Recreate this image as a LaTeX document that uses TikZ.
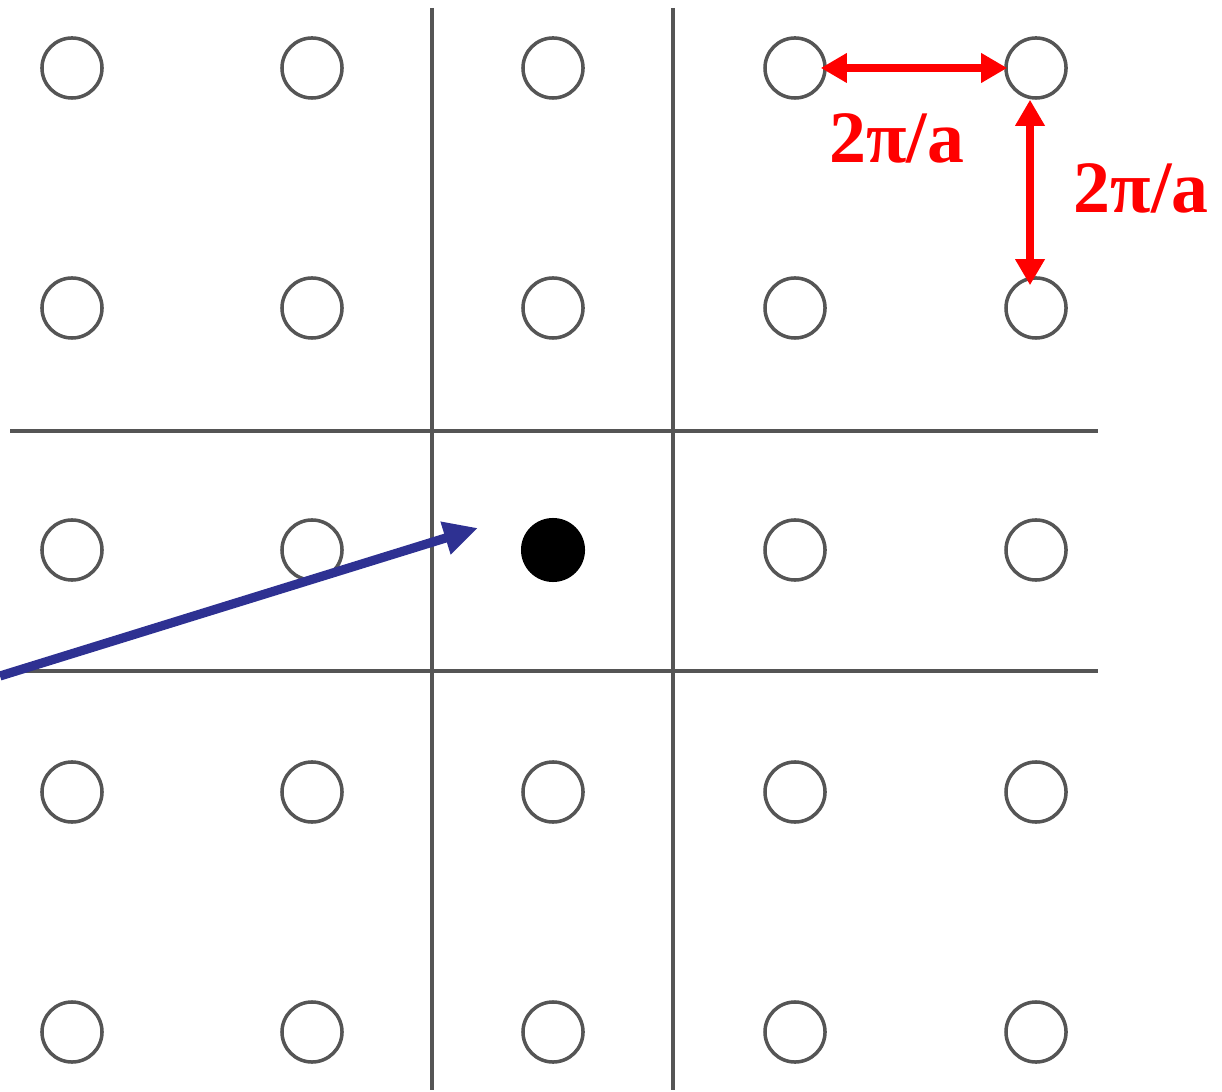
\documentclass[tikz,border=0pt]{standalone}
\usepackage{fontspec}
\setmainfont{Liberation Serif}
\usetikzlibrary{arrows.meta}
\definecolor{ringgray}{HTML}{555555}
\definecolor{arrowblue}{HTML}{2E3192}
\definecolor{labelred}{HTML}{FF0000}
\tikzset{
  ring/.style={circle,draw=ringgray,line width=1pt,minimum size=0.6cm,inner sep=0pt},
  dot/.style={circle,fill=black,minimum size=0.64cm,inner sep=0pt},
  zoneline/.style={draw=ringgray,line width=1pt},
  period/.style={draw=labelred,line width=2.4pt,
    {Triangle[length=2.6mm,width=2.8mm]}-{Triangle[length=2.6mm,width=2.8mm]}},
  periodlabel/.style={text=labelred,font=\bfseries\fontsize{21}{21}\selectfont,anchor=base,inner sep=0pt},
  kvector/.style={draw=arrowblue,line width=2.6pt,-{Triangle[length=3.4mm,width=3.2mm]}}
}
\begin{document}
\begin{tikzpicture}[x=0.01cm,y=-0.01cm]
\useasboundingbox (0,0) rectangle (1222,1092);

% zone boundaries
\draw[zoneline] (432,8) -- (432,1090);
\draw[zoneline] (673,8) -- (673,1090);
\draw[zoneline] (10,431) -- (1098,431);
\draw[zoneline] (10,671) -- (1098,671);

% lattice points
\foreach \col/\x in {1/72,2/312,3/553,4/795,5/1036}
  \foreach \row/\y in {1/68,2/308,3/550,4/792,5/1032}
  {
    \ifnum\col\row=33
      \node[dot] (p\col\row) at (\x,\y) {};
    \else
      \node[ring] (p\col\row) at (\x,\y) {};
    \fi
  }

% lattice spacing
\draw[period,shorten <=-0.06cm,shorten >=-0.03cm] (p41) -- (p51);
\draw[period,shorten >=-0.09cm] ([xshift=-0.06cm]p51.south) -- ([xshift=-0.06cm]p52.north);
\node[periodlabel] (hlabel) at (897,163) {2π/a};
\node[periodlabel] (vlabel) at (1141,213) {2π/a};

% wave vector
\coordinate (kstart) at (0,676);
\coordinate (ktip) at (478,528);
\draw[kvector] (kstart) -- (ktip);
\end{tikzpicture}
\end{document}
